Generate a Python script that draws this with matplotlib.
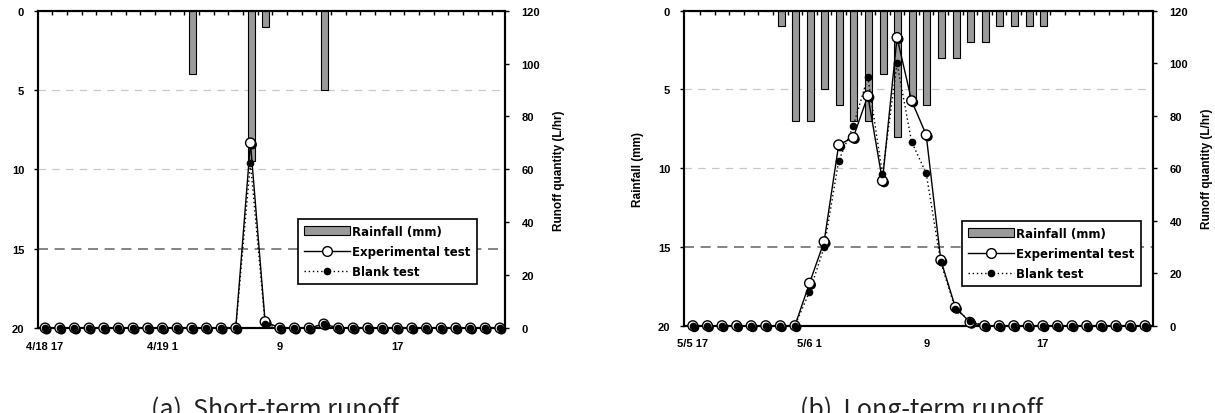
import numpy as np
import matplotlib.pyplot as plt
import matplotlib.patheffects as pe
from matplotlib.patches import Patch
from matplotlib.lines import Line2D

plt.rcParams['font.family'] = ['Liberation Sans', 'DejaVu Sans']

# --- Daten (stündlich, 32 Werte je Ereignis) ---
hours = np.arange(32)
tick_pos = [0, 8, 16, 24]
labels_a = ['4/18 17', '4/19 1', '9', '17']
labels_b = ['5/5 17', '5/6 1', '9', '17']

# (a) Kurzzeit-Abfluss
rain_a = np.zeros(32)
rain_a[[10, 14, 15, 19]] = [4, 9.5, 1, 5]
exp_a = np.zeros(32)
exp_a[[14, 15, 19]] = [70, 2.4, 1.5]
blank_a = np.zeros(32)
blank_a[[14, 15, 19]] = [62.5, 1.5, 1.6]
base_a = [13, 15]          # Grundlinie unter der Abflussspitze

# (b) Langzeit-Abfluss
rain_b = np.zeros(32)
rain_b[6:25] = [1, 7, 7, 5, 6, 7, 7, 4, 8, 6, 6, 3, 3, 2, 2, 1, 1, 1, 1]
exp_b = np.zeros(32)
exp_b[8:20] = [16.2, 32.0, 68.9, 71.7, 87.6, 55.2, 109.8, 85.7, 72.7, 25.0, 7.0, 1.3]
blank_b = np.zeros(32)
blank_b[8:20] = [12.9, 29.8, 62.8, 76.1, 94.8, 57.7, 100.0, 70.1, 58.0, 24.1, 6.3, 1.9]
base_b = [7, 19]

fig = plt.figure(figsize=(12.15, 4.14), dpi=100)

shadow = [pe.SimplePatchShadow(offset=(1.2, -1.2), shadow_rgbFace='black', alpha=1.0), pe.Normal()]


def panel(rect, rain, exp, blank, base, labels, xlim, leg_anchor, left_label, caption, cap_x):
    ax = fig.add_axes(rect)
    ax.bar(hours + 0.05, rain, width=0.48, color='#9a9a9a', edgecolor='black', linewidth=0.8, zorder=2)
    ax.set_ylim(20, 0)
    ax.set_xlim(*xlim)
    ax.set_yticks([0, 5, 10, 15, 20])
    for v in [5, 10]:
        ax.axhline(v, color='#c8c8c8', lw=0.9, ls=(0, (6, 5)), zorder=1)
    ax.axhline(15, color='#6e6e6e', lw=1.2, ls=(0, (6, 4)), zorder=1)
    ax.set_xticks(tick_pos)
    ax.set_xticklabels(labels, fontweight='bold', fontsize=8)
    ax.set_xticks(hours[:-1] + 0.5, minor=True)
    ax.tick_params(axis='x', which='major', length=0, pad=9, bottom=False, top=False)
    ax.tick_params(axis='x', which='minor', top=True, bottom=False, direction='in', length=3, width=1)
    ax.tick_params(axis='y', length=3, width=1, pad=7, labelsize=8)
    for t in ax.get_yticklabels():
        t.set_fontweight('bold')
    for s in ax.spines.values():
        s.set_linewidth(1.5)
    if left_label:
        ax.set_ylabel('Rainfall (mm)', fontweight='bold', fontsize=8.5, labelpad=10)

    ax2 = ax.twinx()
    ax2.set_ylim(0, 120)
    ax2.set_yticks(np.arange(0, 121, 20))
    ax2.tick_params(axis='y', length=3, width=1, pad=9, labelsize=8)
    for t in ax2.get_yticklabels():
        t.set_fontweight('bold')
    ax2.set_ylabel('Runoff quantity (L/hr)', fontweight='bold', fontsize=8.5, labelpad=9)
    ax2.plot(base, [0, 0], color='black', lw=1, zorder=2)
    ax2.plot(hours, blank, color='black', lw=1, ls=(0, (1, 2)), zorder=2)
    ax2.plot(hours, exp, color='black', lw=1, zorder=3)
    ax2.plot(hours, exp, ls='none', marker='o', ms=7, mfc='white', mec='black', mew=1,
             zorder=4, path_effects=shadow, clip_on=False)
    ax2.plot(hours, blank, ls='none', marker='o', ms=4.5, mfc='black', mec='black',
             zorder=5, clip_on=False)
    for s in ax2.spines.values():
        s.set_linewidth(1.5)

    handles = [
        Patch(facecolor='#9a9a9a', edgecolor='black', linewidth=0.8),
        Line2D([], [], color='black', lw=1, marker='o', ms=7, mfc='white', mec='black'),
        Line2D([], [], color='black', lw=1, ls=(0, (1, 2)), marker='o', ms=4.5, mfc='black', mec='black'),
    ]
    leg = ax2.legend(handles, ['Rainfall (mm)', 'Experimental test', 'Blank test'],
                     loc='upper left', bbox_to_anchor=leg_anchor, frameon=True, fancybox=False,
                     edgecolor='black', framealpha=1, handlelength=3.9, handleheight=0.8,
                     handletextpad=0.2, labelspacing=0.6, borderpad=0.5, borderaxespad=0,
                     prop={'weight': 'bold', 'size': 8.5, 'family': 'DejaVu Sans'})
    leg.get_frame().set_linewidth(1.2)
    leg.set_zorder(10)

    fig.text(cap_x, 0.042, caption, ha='center', va='top', fontsize=18,
             family=['Noto Sans CJK KR', 'DejaVu Sans'], color='#222222')
    return ax


panel([0.0313, 0.2053, 0.3843, 0.7664], rain_a, exp_a, blank_a, base_a, labels_a,
      (-0.48, 31.35), (0.557, 0.3435), False, '(a)  Short-term runoff', 0.226)
panel([0.563, 0.2109, 0.386, 0.7608], rain_b, exp_b, blank_b, base_b, labels_b,
      (-0.6, 31.55), (0.593, 0.332), True, '(b)  Long-term runoff', 0.758)

plt.savefig('out.png', dpi=100)
